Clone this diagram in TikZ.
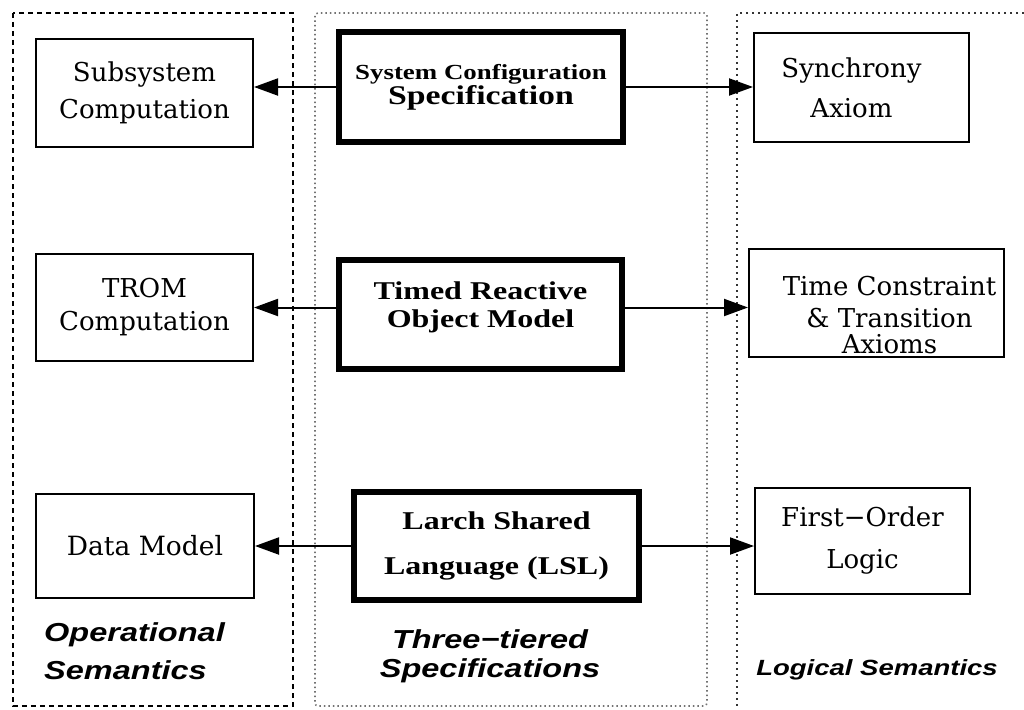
\documentclass[tikz,border=0pt]{standalone}
\usepackage{fontspec}
\usetikzlibrary{arrows.meta}
\newfontfamily\lblfont[FakeStretch=1.25]{Liberation Sans}
\newfontfamily\regfont{DejaVu Serif}
\newfontfamily\boldfont[FakeStretch=1.25]{Liberation Serif}
\begin{document}
\begin{tikzpicture}[x=1pt,y=-1pt,
  thinbox/.style={draw=black,line width=2pt,inner sep=0pt,align=center,
    font=\regfont\fontsize{26}{37}\selectfont},
  thickbox/.style={draw=black,line width=6pt,inner sep=0pt,align=center,
    font=\boldfont\bfseries\fontsize{25.6}{28}\selectfont},
  conn/.style={line width=2pt,-{Triangle[length=24pt,width=17pt]}},
  lbl/.style={inner sep=0pt,font=\lblfont\bfseries\itshape\fontsize{26}{38}\selectfont},
  regionL/.style={line width=1.5pt,dash pattern=on 5pt off 4pt},
  regionM/.style={line width=1.6pt,black!55,dash pattern=on 1.5pt off 3pt,rounded corners=3pt},
  regionR/.style={line width=1.3pt,black!80,dash pattern=on 2pt off 4pt}]
\useasboundingbox (0,0) rectangle (1024,709);

% regions
\draw[regionL] (13,13) rectangle (293,706);
\draw[regionM] (315,13) rectangle (707,706);
\draw[regionR] (1024,13) -- (737,13) -- (737,709);

% left column
\node[thinbox,minimum width=217pt,minimum height=108pt] (sub) at (144.5,93)
  {Subsystem\\Computation};
\node[thinbox,minimum width=217pt,minimum height=107pt,
  font=\regfont\fontsize{26}{33}\selectfont] (trom) at (144.5,307.5)
  {TROM\\Computation};
\node[thinbox,minimum width=218pt,minimum height=104pt,
  font=\regfont\fontsize{26.5}{36}\selectfont] (dm) at (145,546) {Data Model};

% middle column
\node[thickbox,minimum width=284pt,minimum height=110pt,
  font=\boldfont\bfseries\fontsize{21.5}{25}\selectfont] (scs) at (481,87)
  {System Configuration\\\fontsize{27}{25}\selectfont Specification};
\node[thickbox,minimum width=283pt,minimum height=109pt] (timed) at (480.5,314.5)
  {Timed Reactive\\Object Model\rule[-20pt]{0pt}{1pt}};
\node[thickbox,minimum width=285pt,minimum height=108pt,
  font=\boldfont\bfseries\fontsize{25.6}{45}\selectfont] (lsl) at (496.5,546)
  {Larch Shared\\Language (LSL)};

% right column
\node[thinbox,minimum width=215pt,minimum height=109pt,
  font=\regfont\fontsize{26}{40}\selectfont] (syn) at (861.5,87.5)
  {\hspace*{-20pt}Synchrony\\\hspace*{-20pt}Axiom};
\node[thinbox,minimum width=255pt,minimum height=108pt,
  font=\regfont\fontsize{26}{32}\selectfont] (tc) at (876.5,303)
  {\hspace*{26pt}\rule{0pt}{44pt}Time Constraint\\\hspace*{26pt}\& Transition\\[-6pt]\hspace*{26pt}Axioms};
\node[thinbox,minimum width=215pt,minimum height=106pt,
  font=\regfont\fontsize{26}{42}\selectfont] (fol) at (862.5,541)
  {First−Order\\Logic};

% connectors
\draw[conn] (scs.west) -- (scs.west -| sub.east);
\draw[conn] (scs.east) -- (scs.east -| syn.west);
\draw[conn] (timed.west |- trom.east) -- (trom.east);
\draw[conn] (timed.east |- trom.east) -- (tc.west |- trom.east);
\draw[conn] (lsl.west) -- (lsl.west -| dm.east);
\draw[conn] (lsl.east) -- (lsl.east -| fol.west);

% labels
\node[lbl,align=left,anchor=west] (op) at (44,651.5) {Operational\\Semantics};
\node[lbl,align=center,font=\lblfont\bfseries\itshape\fontsize{26}{29}\selectfont] (tt) at (490,656)
  {Three−tiered\\Specifications};
\node[lbl,anchor=base,font=\lblfont\bfseries\itshape\fontsize{22}{26}\selectfont] (ls) at (877,675)
  {Logical Semantics};
\end{tikzpicture}
\end{document}
